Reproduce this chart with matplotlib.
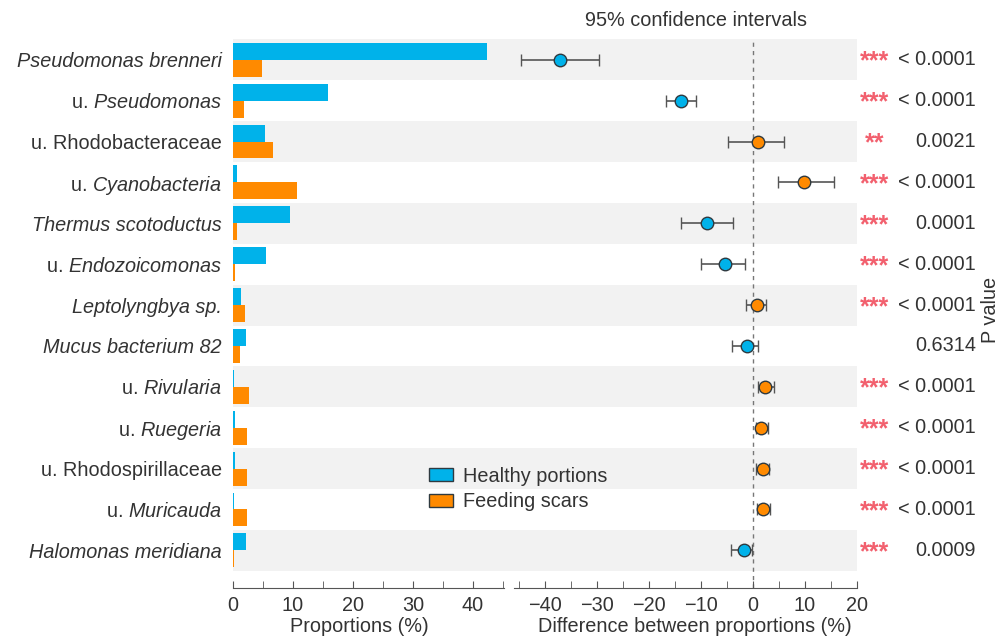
import numpy as np
import matplotlib
matplotlib.use("Agg")
import matplotlib.pyplot as plt
from matplotlib.patches import Patch
from matplotlib.ticker import MultipleLocator

plt.rcParams['font.family'] = ['Liberation Sans', 'DejaVu Sans']
plt.rcParams['mathtext.fontset'] = 'custom'
plt.rcParams['mathtext.rm'] = 'Liberation Sans'
plt.rcParams['mathtext.it'] = 'Liberation Sans:italic'

# taxa, top to bottom (fully italic names are flagged separately)
taxa = ['Pseudomonas brenneri',
        r'u. $\mathit{Pseudomonas}$',
        'u. Rhodobacteraceae',
        r'u. $\mathit{Cyanobacteria}$',
        'Thermus scotoductus',
        r'u. $\mathit{Endozoicomonas}$',
        'Leptolyngbya sp.',
        'Mucus bacterium 82',
        r'u. $\mathit{Rivularia}$',
        r'u. $\mathit{Ruegeria}$',
        'u. Rhodospirillaceae',
        r'u. $\mathit{Muricauda}$',
        'Halomonas meridiana']
italic = [True, False, False, False, True, False, True, True,
          False, False, False, False, True]

# mean proportions (%)
healthy = [42.3, 15.9, 5.3, 0.6, 9.5, 5.5, 1.3, 2.2, 0.2, 0.3, 0.3, 0.2, 2.2]
feeding = [4.9, 1.8, 6.6, 10.6, 0.7, 0.3, 2.0, 1.2, 2.7, 2.3, 2.3, 2.3, 0.2]

# difference between proportions with 95% CI
diff = [-37.2, -13.8, 1.0, 9.8, -8.8, -5.4, 0.8, -1.2, 2.3, 1.6, 1.9, 1.9, -1.8]
ci_low = [-44.7, -16.7, -4.8, 4.8, -13.8, -10.1, -1.4, -4.0, 1.0, 0.5, 0.6, 0.7, -4.3]
ci_high = [-29.6, -11.0, 5.9, 15.5, -3.8, -1.6, 2.4, 1.0, 4.0, 2.9, 3.0, 3.3, -0.25]

stars = ['***', '***', '**', '***', '***', '***', '***', '', '***', '***', '***', '***', '***']
pvals = ['< 0.0001', '< 0.0001', '0.0021', '< 0.0001', '0.0001', '< 0.0001', '< 0.0001',
         '0.6314', '< 0.0001', '< 0.0001', '< 0.0001', '< 0.0001', '0.0009']

c_blue = '#00b2ea'
c_orange = '#ff8a00'
c_band = '#f2f2f2'
c_text = '#333333'
fs = 14.3

n = len(taxa)
y = np.arange(n)
ylim = (n - 0.08, -0.5)

W, H = 1008, 639
fig = plt.figure(figsize=(W / 100, H / 100), dpi=100)

def fx(px):
    return px / W

top_px, bot_px = 39.3, 588
ax_b = (H - bot_px) / H
ax_h = (bot_px - top_px) / H

# shared background bands behind both panels
ax_bg = fig.add_axes([fx(233), ax_b, fx(857 - 233), ax_h], zorder=0)
ax_bg.set_ylim(ylim)
ax_bg.set_xlim(0, 1)
for i in range(0, n, 2):
    ax_bg.axhspan(i - 0.5, i + 0.5, color=c_band, lw=0)
ax_bg.axis('off')

# left panel: proportions
ax1 = fig.add_axes([fx(233), ax_b, fx(504 - 233), ax_h], zorder=1)
ax1.patch.set_alpha(0)
h = 0.415
ax1.barh(y - h / 2, healthy, height=h, color=c_blue, lw=0)
ax1.barh(y + h / 2, feeding, height=h, color=c_orange, lw=0)
ax1.set_xlim(0, 271 / 6)
ax1.set_ylim(ylim)
ax1.set_yticks(y)
ax1.set_yticklabels(taxa, fontsize=fs, color=c_text)
for lab, it in zip(ax1.get_yticklabels(), italic):
    if it:
        lab.set_fontstyle('italic')
ax1.tick_params(axis='y', length=0, pad=8)

# right panel: differences with confidence intervals
ax2 = fig.add_axes([fx(514), ax_b, fx(857 - 514), ax_h], zorder=1)
ax2.patch.set_alpha(0)
ax2.axvline(0, color='#777777', lw=1, ls=(0, (3, 3)), zorder=1)
for i in range(n):
    col = c_blue if diff[i] < 0 else c_orange
    ax2.errorbar(diff[i], y[i],
                 xerr=[[diff[i] - ci_low[i]], [ci_high[i] - diff[i]]],
                 fmt='o', color='#555555', ecolor='#555555', elinewidth=1.2,
                 capsize=4, capthick=1.2, markersize=9,
                 markerfacecolor=col, markeredgecolor='#2f3a40',
                 markeredgewidth=1, zorder=3)
ax2.set_xlim(-46, 20)
ax2.set_ylim(ylim)
ax2.set_yticks([])

for ax in (ax1, ax2):
    for s in ('top', 'right', 'left'):
        ax.spines[s].set_visible(False)
    ax.spines['bottom'].set_color('#555555')
    ax.xaxis.set_major_locator(MultipleLocator(10))
    ax.xaxis.set_minor_locator(MultipleLocator(5))
    ax.tick_params(axis='x', which='both', direction='in', length=5,
                   color='#555555', labelsize=fs, labelcolor=c_text, pad=6)

# p values and significance stars
for i in range(n):
    yc = 1 - (top_px + (i + 0.5) * (bot_px - top_px) / (n + 0.42)) / H
    if stars[i]:
        fig.text(fx(875), yc - 0.003, stars[i], ha='center', va='center',
                 fontsize=18, fontweight='bold', color='#f2606e')
    fig.text(fx(976), yc, pvals[i], ha='right', va='center',
             fontsize=fs, color=c_text)

fig.text(fx(990), 1 - 310 / H, 'P value', rotation=90, ha='center', va='center',
         fontsize=fs, color=c_text)
fig.text(fx(696), 1 - 21 / H, '95% confidence intervals', ha='center', va='center',
         fontsize=fs, color=c_text)
fig.text(fx(359), 1 - 627 / H, 'Proportions (%)', ha='center', va='center',
         fontsize=fs, color=c_text)
fig.text(fx(695), 1 - 627 / H, 'Difference between proportions (%)', ha='center',
         va='center', fontsize=fs, color=c_text)

handles = [Patch(facecolor=c_blue, edgecolor='#2f3a40', lw=1),
           Patch(facecolor=c_orange, edgecolor='#2f3a40', lw=1)]
fig.legend(handles, ['Healthy portions', 'Feeding scars'], frameon=False,
           fontsize=fs, loc='center left', bbox_to_anchor=(fx(411), 1 - 489 / H),
           handlelength=1.2, handleheight=0.6, handletextpad=0.5,
           labelspacing=0.35, labelcolor=c_text)

fig.savefig('out.png', dpi=100)
